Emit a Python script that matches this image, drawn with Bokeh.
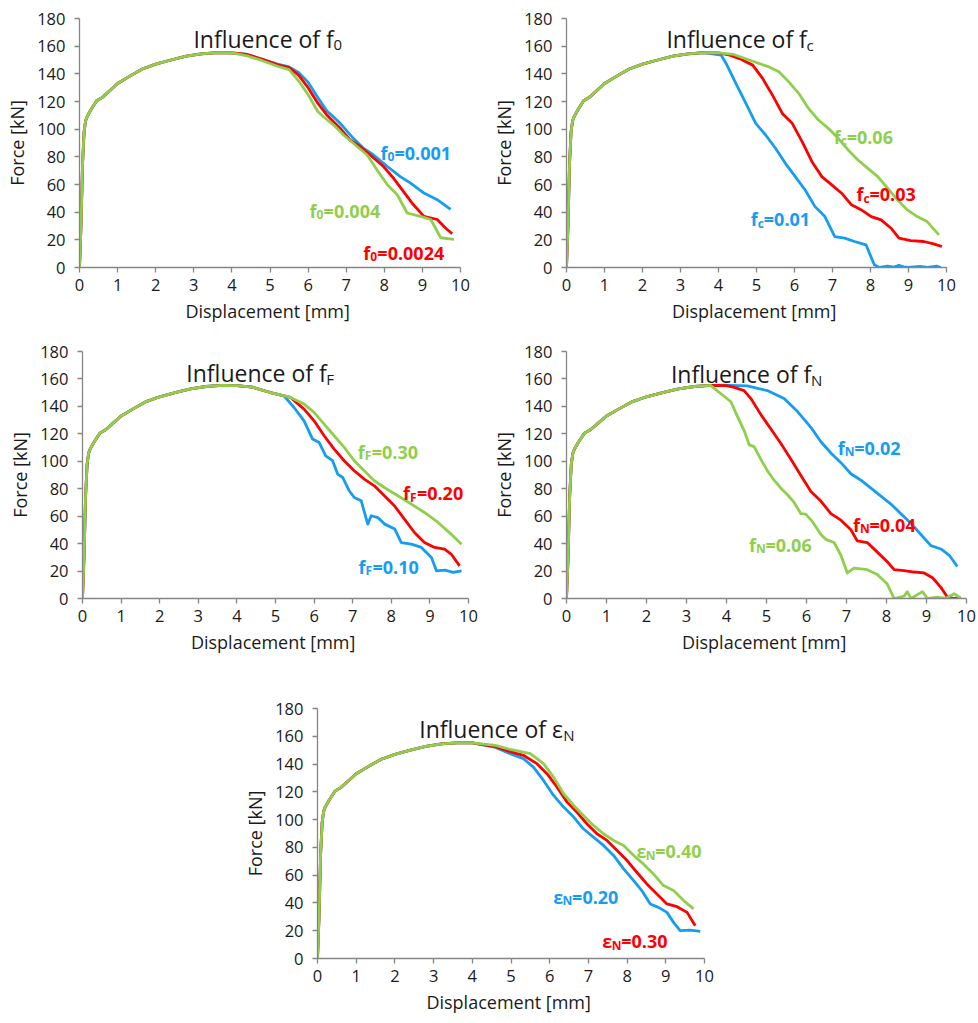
from bokeh.plotting import figure
from bokeh.layouts import column, row, Spacer
from bokeh.models import Range1d, FixedTicker
from bokeh.core.properties import value
from bokeh.embed import file_html
from bokeh.resources import INLINE

FONT = "Open Sans"
BLUE = "#169DF0"
RED = "#FF0000"
GREEN = "#8FCF4C"
AXIS = "#868686"
TXT = "#1a1a1a"

# ---------------- data ----------------
x_ticks = list(range(0, 11))
y_ticks = list(range(0, 181, 20))

# shared elastic/plastic rise before peak
base_x = [0, 0.04, 0.08, 0.12, 0.16, 0.2, 0.3, 0.45, 0.6, 0.8, 1.0, 1.3, 1.65, 2.0, 2.4, 2.8, 3.2, 3.6, 4.0]
base_y = [0, 30, 75, 98, 106, 109, 114, 120.5, 123, 128, 133, 138, 143.5, 147, 150, 152.8, 154.5, 155.3, 155.2]

# Panel 1: influence of f0
f0_001_x = [4.4, 4.8, 5.2, 5.5, 5.75, 6.0, 6.25, 6.5, 6.62, 6.85, 7.2, 7.46, 7.72, 8.08, 8.42, 8.69, 9.04, 9.39, 9.74]
f0_001_y = [154, 150.5, 147, 145, 141, 134, 123, 113, 110, 104, 93, 86, 81.3, 73, 65.7, 61, 53.8, 49, 42]
f0_0024_x = [4.4, 4.8, 5.2, 5.5, 5.75, 6.0, 6.25, 6.5, 6.7, 6.85, 7.11, 7.37, 7.63, 7.98, 8.24, 8.5, 8.76, 9.04, 9.39, 9.6, 9.78]
f0_0024_y = [154, 150.5, 146.5, 144.5, 139, 130, 119, 110, 104.5, 100.4, 92, 87.3, 81.3, 73, 64.6, 55, 45.5, 37, 34.7, 28.7, 24.4]
f0_004_x = [4.4, 4.8, 5.2, 5.5, 5.75, 6.0, 6.25, 6.41, 6.68, 6.94, 7.25, 7.55, 7.81, 8.08, 8.34, 8.6, 8.95, 9.22, 9.48, 9.83]
f0_004_y = [153, 149.5, 145.5, 143, 135, 125, 113, 108.8, 102.8, 95.6, 88.4, 81.3, 70.5, 59.8, 52.6, 39.4, 37, 34.7, 21.5, 20.3]

# Panel 2: influence of fc
fc_001_x = [4.07, 4.2, 4.46, 4.72, 4.98, 5.24, 5.5, 5.76, 6.02, 6.28, 6.54, 6.8, 7.06, 7.32, 7.58, 7.88, 8.1, 8.23, 8.45, 8.61, 8.75, 8.87, 9.0, 9.3, 9.5, 9.74, 9.85]
fc_001_y = [153.5, 147.5, 133, 118.6, 104.2, 95.8, 86.2, 75.3, 65.7, 56, 44, 36.8, 22.4, 21.2, 18.8, 16.4, 2, 0, 1, 0.3, 1.5, 0.5, 0, 0.8, 0, 1, 0]
fc_003_x = [4.3, 4.55, 4.9, 5.16, 5.42, 5.68, 5.94, 6.2, 6.46, 6.72, 6.98, 7.24, 7.5, 7.76, 8.02, 8.28, 8.54, 8.75, 9.06, 9.4, 9.66, 9.88]
fc_003_y = [153.5, 151, 146.3, 136.7, 124.6, 111.4, 104.2, 91, 76.5, 65.7, 59.7, 53.7, 45.3, 41.6, 36.8, 34.4, 28.4, 21.2, 19.5, 18.8, 17.1, 15.2]
fc_006_x = [4.4, 4.81, 5.33, 5.59, 5.85, 6.11, 6.37, 6.63, 6.89, 7.15, 7.41, 7.67, 7.93, 8.19, 8.45, 8.71, 8.97, 9.23, 9.49, 9.8]
fc_006_y = [154, 150, 145, 141.5, 134.2, 125.9, 115, 106.6, 100.6, 93.4, 85, 77.7, 71.7, 65.7, 57.3, 48.9, 41.6, 36.8, 33.2, 23.6]

# Panel 3: influence of fF
fF_010_x = [4.4, 4.87, 5.22, 5.48, 5.74, 5.96, 6.13, 6.3, 6.48, 6.61, 6.74, 6.91, 7.04, 7.22, 7.39, 7.48, 7.65, 7.83, 8.09, 8.26, 8.52, 8.78, 9.04, 9.17, 9.39, 9.6, 9.82]
fF_010_y = [154, 150.1, 147.7, 139.2, 129.5, 116.2, 113.7, 104, 100.4, 90.7, 88.2, 78.5, 73.6, 71.2, 54.2, 60.3, 59, 54.2, 50.6, 40.8, 39.6, 37.2, 29.9, 20.2, 20.7, 19, 20.2]
fF_020_x = [4.4, 4.87, 5.39, 5.74, 6.0, 6.26, 6.52, 6.78, 7.04, 7.3, 7.56, 7.82, 8.08, 8.34, 8.6, 8.86, 9.12, 9.38, 9.55, 9.77]
fF_020_y = [154, 150.1, 146.5, 138, 129.5, 118.6, 108.9, 100.4, 93.1, 87, 82.1, 74.9, 67.6, 57.9, 48.1, 40.8, 37.2, 36, 32.4, 23.8]
fF_030_x = [4.4, 4.87, 5.39, 5.74, 6.0, 6.26, 6.52, 6.78, 7.04, 7.3, 7.56, 7.82, 8.17, 8.52, 8.86, 9.21, 9.55, 9.82]
fF_030_y = [154, 150.1, 146.5, 141.7, 135.6, 127.1, 118.6, 110.1, 100.4, 93.1, 85.8, 80.9, 74.9, 68.8, 62.7, 55.4, 46.9, 39.6]

# Panel 4: influence of fN
fN_002_x = [3.86, 4.52, 5.02, 5.44, 5.77, 6.11, 6.36, 6.61, 6.86, 7.11, 7.36, 7.61, 7.86, 8.11, 8.36, 8.61, 8.86, 9.11, 9.36, 9.57, 9.77]
fN_002_y = [155.5, 155, 151.5, 145.7, 136.4, 124.7, 114.2, 106, 99, 90.9, 86.2, 80.4, 74.6, 68.8, 61.8, 54.8, 46.6, 38.5, 36.1, 31.5, 23.3]
fN_004_x = [4.19, 4.44, 4.61, 4.86, 5.11, 5.36, 5.61, 5.86, 6.11, 6.36, 6.61, 6.86, 7.11, 7.27, 7.52, 7.77, 8.02, 8.19, 8.44, 8.69, 8.94, 9.15, 9.36, 9.52, 9.69, 9.86]
fN_004_y = [153.9, 151.5, 145.7, 134, 123.5, 113, 101.4, 89.7, 78, 71, 61.8, 57.1, 50.1, 42, 40.8, 33.8, 26.8, 21, 20.3, 19.3, 18.6, 15.1, 8.1, 1.1, 0, 0.5]
fN_006_x = [4.11, 4.27, 4.44, 4.57, 4.69, 4.86, 5.02, 5.19, 5.36, 5.52, 5.69, 5.86, 5.98, 6.15, 6.36, 6.48, 6.69, 6.86, 7.02, 7.19, 7.52, 7.77, 8.02, 8.19, 8.44, 8.52, 8.61, 8.9, 9.02, 9.27, 9.48, 9.69, 9.86]
fN_006_y = [143.4, 132.9, 122.4, 111.9, 110.7, 101.4, 93.2, 86.2, 80.4, 75.8, 70, 61.8, 61.5, 56, 46.6, 43.1, 40.8, 31.5, 18.6, 22.1, 21, 17.5, 10.5, 0, 1.7, 5, 0, 5, 0, 1, 0, 3.5, 0]

# Panel 5: influence of epsilon_N
eN_020_x = [4.6, 4.98, 5.32, 5.58, 5.84, 6.1, 6.36, 6.62, 6.87, 7.13, 7.39, 7.65, 7.91, 8.17, 8.38, 8.6, 8.81, 9.03, 9.2, 9.37, 9.63, 9.89]
eN_020_y = [152, 147.5, 143.9, 137.8, 128.2, 117.4, 109, 101.8, 93.4, 87.4, 81.4, 74.2, 64.5, 56.1, 48.9, 39.3, 36.8, 33.2, 26, 20, 20.4, 19.5]
eN_030_x = [4.6, 4.98, 5.32, 5.67, 5.93, 6.19, 6.45, 6.7, 6.96, 7.22, 7.48, 7.74, 8.0, 8.25, 8.51, 8.77, 9.03, 9.29, 9.55, 9.76]
eN_030_y = [152.5, 149, 146.3, 140.3, 133.1, 123.4, 112.6, 105.4, 97, 89.8, 85, 77.8, 70.5, 62.1, 53.7, 46.5, 39.3, 37.3, 33.2, 23.6]
eN_040_x = [4.6, 4.98, 5.5, 5.84, 6.1, 6.36, 6.62, 6.87, 7.13, 7.39, 7.65, 7.91, 8.17, 8.42, 8.68, 8.94, 9.2, 9.46, 9.72]
eN_040_y = [153.5, 150.5, 147.5, 140.3, 130.6, 118.6, 110.2, 103, 95.8, 89.8, 85, 81.4, 74.2, 68.1, 60.9, 52.5, 48.9, 41.7, 35.7]


def full(tx, ty, upto=4.0):
    bx = [v for v in base_x if v <= upto]
    by = base_y[:len(bx)]
    return bx + tx, by + ty


# ---------------- helpers ----------------
def make_panel(w, h, left, right, top, bottom):
    p = figure(width=w, height=h, output_backend="svg", toolbar_location=None,
               x_range=Range1d(0, 10), y_range=Range1d(0, 180),
               min_border_left=left, min_border_right=right,
               min_border_top=top, min_border_bottom=bottom)
    p.outline_line_color = None
    p.grid.visible = False
    p.background_fill_color = "white"
    p.border_fill_color = "white"
    p.xaxis.ticker = FixedTicker(ticks=x_ticks)
    p.yaxis.ticker = FixedTicker(ticks=y_ticks)
    for ax in (p.xaxis[0], p.yaxis[0]):
        ax.axis_line_color = AXIS
        ax.axis_line_width = 1.3
        ax.major_tick_line_color = AXIS
        ax.major_tick_line_width = 1.3
        ax.major_tick_in = 0
        ax.major_tick_out = 5
        ax.minor_tick_line_color = None
        ax.major_label_text_font = FONT
        ax.major_label_text_font_size = "16.5px"
        ax.major_label_text_color = TXT
        ax.axis_label_text_font = FONT
        ax.axis_label_text_font_size = "18px"
        ax.axis_label_text_font_style = "normal"
        ax.axis_label_text_color = TXT
    p.xaxis.axis_label = "Displacement  [mm]"
    p.yaxis.axis_label = "Force [kN]"
    p.xaxis.major_label_standoff = 6
    p.yaxis.major_label_standoff = 9
    p.xaxis.axis_label_standoff = 5
    p.yaxis.axis_label_standoff = 5
    return p


def txt(p, x, y, t, size, color, bold, dx=0, dy=0):
    p.text(x=[x], y=[y], text=[t], x_offset=dx, y_offset=dy,
           text_font=value(FONT), text_font_size=f"{size}px",
           text_font_style="bold" if bold else "normal",
           text_color=color, text_align="left", text_baseline="alphabetic")


def title(p, x, y, main, sub, w_main):
    txt(p, x, y, main, 23, TXT, False)
    txt(p, x, y, sub, 15, TXT, False, dx=w_main, dy=6)


def tag(p, x, y, head, sub, rest, color, w_head, w_sub):
    txt(p, x, y, head, 18, color, True)
    txt(p, x, y, sub, 12, color, True, dx=w_head, dy=4)
    txt(p, x, y, rest, 18, color, True, dx=w_head + w_sub)


LW = 2.8


def curves(p, series):
    for (xs, ys), c in series:
        p.line(xs, ys, line_color=c, line_width=LW, line_join="round")


# ---------------- panel 1 ----------------
p1 = make_panel(489, 330, 79, 29, 17, 63)
curves(p1, [(full(f0_001_x, f0_001_y), BLUE), (full(f0_0024_x, f0_0024_y), RED), (full(f0_004_x, f0_004_y), GREEN)])
title(p1, 2.99, 165.5, "Influence of f", "0", 140)
tag(p1, 7.9, 83, "f", "0", "=0.001", BLUE, 7, 7)
tag(p1, 6.04, 41.2, "f", "0", "=0.004", GREEN, 7, 7)
tag(p1, 7.45, 10.8, "f", "0", "=0.0024", RED, 7, 7)

# ---------------- panel 2 ----------------
p2 = make_panel(489, 330, 73, 32, 18, 62)
curves(p2, [(full(fc_001_x, fc_001_y, 3.6), BLUE), (full(fc_003_x, fc_003_y), RED), (full(fc_006_x, fc_006_y), GREEN)])
title(p2, 2.63, 165.5, "Influence of f", "c", 140)
tag(p2, 7.03, 94.5, "f", "c", "=0.06", GREEN, 7, 6)
tag(p2, 7.63, 53, "f", "c", "=0.03", RED, 7, 6)
tag(p2, 4.85, 34.9, "f", "c", "=0.01", BLUE, 7, 6)

# ---------------- panel 3 ----------------
p3 = make_panel(489, 340, 82, 21, 21, 72)
curves(p3, [(full(fF_010_x, fF_010_y), BLUE), (full(fF_020_x, fF_020_y), RED), (full(fF_030_x, fF_030_y), GREEN)])
title(p3, 2.69, 164, "Influence of f", "F", 140)
tag(p3, 7.13, 107.1, "f", "F", "=0.30", GREEN, 7, 7)
tag(p3, 8.3, 76.8, "f", "F", "=0.20", RED, 7, 7)
tag(p3, 7.15, 23.1, "f", "F", "=0.10", BLUE, 7, 7)

# ---------------- panel 4 ----------------
p4 = make_panel(489, 340, 77, 12, 11, 72)
curves(p4, [(full(fN_002_x, fN_002_y, 3.6), BLUE), (full(fN_004_x, fN_004_y, 4.0), RED), (full(fN_006_x, fN_006_y, 3.6), GREEN)])
title(p4, 2.61, 163.7, "Influence of f", "N", 140)
tag(p4, 6.78, 110, "f", "N", "=0.02", BLUE, 7, 9.5)
tag(p4, 7.16, 53.6, "f", "N", "=0.04", RED, 7, 9.5)
tag(p4, 4.56, 39.2, "f", "N", "=0.06", GREEN, 7, 9.5)

# ---------------- panel 5 ----------------
p5 = make_panel(500, 353, 77, 36, 38, 65)
curves(p5, [(full(eN_020_x, eN_020_y, 4.4), BLUE), (full(eN_030_x, eN_030_y, 4.4), RED), (full(eN_040_x, eN_040_y, 4.4), GREEN)])
title(p5, 2.63, 165.6, "Influence of \u03b5", "N", 144)
tag(p5, 8.24, 77.2, "\u03b5", "N", "=0.40", GREEN, 9.4, 9.5)
tag(p5, 6.09, 44.5, "\u03b5", "N", "=0.20", BLUE, 9.4, 9.5)
tag(p5, 7.36, 12.3, "\u03b5", "N", "=0.30", RED, 9.4, 9.5)

layout = column(row(p1, p2), row(p3, p4), row(Spacer(width=240, height=353), p5))

open("out.html", "w").write(file_html(layout, INLINE))
